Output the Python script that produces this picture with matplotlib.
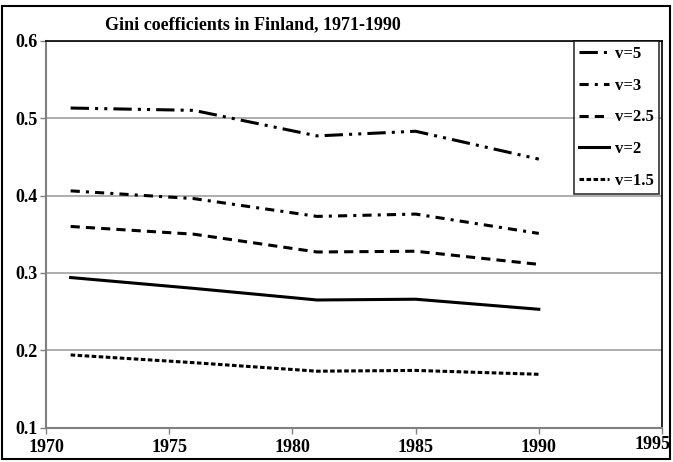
import matplotlib
matplotlib.use("Agg")
import matplotlib.pyplot as plt
import matplotlib.transforms as mtransforms
from matplotlib.patches import Rectangle

plt.rcParams['font.family'] = ['Liberation Serif', 'DejaVu Serif']

# Gini coefficients in Finland by inequality aversion parameter v
years = [1971, 1976, 1981, 1985, 1990]
gini_v5 = [0.513, 0.510, 0.477, 0.483, 0.447]
gini_v3 = [0.406, 0.396, 0.373, 0.376, 0.351]
gini_v25 = [0.360, 0.350, 0.327, 0.328, 0.311]
gini_v2 = [0.294, 0.280, 0.265, 0.266, 0.253]
gini_v15 = [0.194, 0.184, 0.173, 0.174, 0.169]

labels = ["v=5", "v=3", "v=2.5", "v=2", "v=1.5"]

fig = plt.figure(figsize=(6.73, 4.62), dpi=100)
ax = fig.add_axes([46/673, 1 - 427.7/462, (662-46)/673, (427.7-40.7)/462])

lw = 2.2
styles = [
    (0, (6, 2, 1, 2, 1, 2)),   # dash-dot-dot
    (0, (3, 2, 1, 2)),         # dash-dot
    (0, (3, 2)),               # dashed
    "-",                       # solid
    (0, (1.5, 0.8)),           # short dashes
]
series = [gini_v5, gini_v3, gini_v25, gini_v2, gini_v15]
for vals, ls, lab in zip(series, styles, labels):
    ax.plot(years, vals, color="black", lw=lw, linestyle=ls, label=lab)

ax.set_xlim(1970, 1995)
ax.set_ylim(0.1, 0.6)
ax.set_xticks([1970, 1975, 1980, 1985, 1990, 1995])
ax.set_yticks([0.1, 0.2, 0.3, 0.4, 0.5, 0.6])
ax.set_yticklabels(["0.1", "0.2", "0.3", "0.4", "0.5", "0.6"])
ax.yaxis.grid(True, color="#a0a0a0", lw=1.2)
ax.set_axisbelow(True)

for side in ["left", "bottom"]:
    ax.spines[side].set_color("#808080")
    ax.spines[side].set_linewidth(1.5)
for side in ["top", "right"]:
    ax.spines[side].set_color("black")
    ax.spines[side].set_linewidth(1.2)

ax.tick_params(axis="both", direction="out", length=4, color="#808080",
               width=1.0, labelsize=13)
ax.tick_params(axis="y", pad=2)
ax.tick_params(axis="x", pad=4)
for t in ax.get_xticklabels() + ax.get_yticklabels():
    t.set_fontweight("bold")

# last x label sits a bit left and up, inside the outer frame
last = ax.get_xticklabels()[-1]
last.set_transform(last.get_transform() +
                   mtransforms.ScaledTranslation(-9/100, 3/100, fig.dpi_scale_trans))

leg = ax.legend(loc="upper right", bbox_to_anchor=((659-46)/(662-46), 1.0),
                borderaxespad=0, frameon=True, fancybox=False,
                handlelength=1.8, handletextpad=0.35, labelspacing=0.95,
                borderpad=0.3, prop={"weight": "bold", "size": 12})
leg.get_frame().set_edgecolor("black")
leg.get_frame().set_linewidth(1.2)

fig.text(253/673, 1 - 25/462, "Gini coefficients in Finland, 1971-1990",
         ha="center", va="center", fontsize=13, fontweight="bold")

# outer frame around the whole chart
fig.patches.append(Rectangle((2/673, 3/462), 668/673, 453/462,
                             transform=fig.transFigure, fill=False,
                             edgecolor="black", lw=1.5))

fig.savefig("out.png", dpi=100)
